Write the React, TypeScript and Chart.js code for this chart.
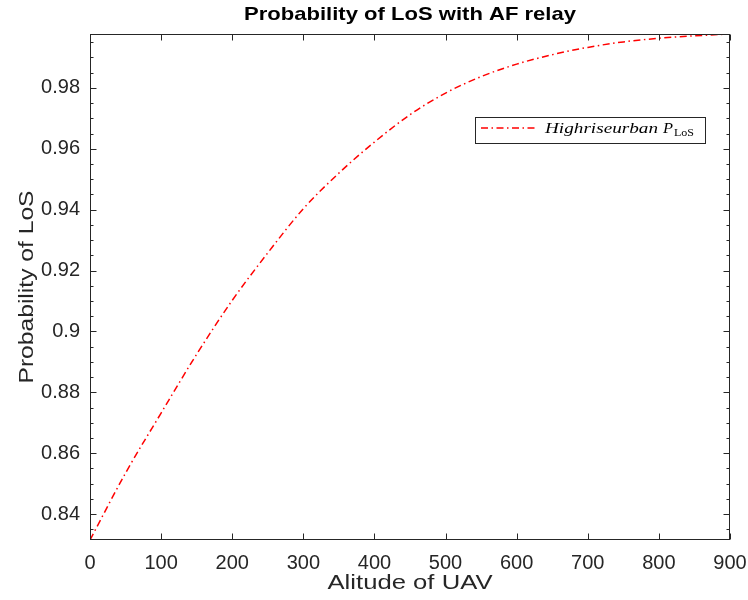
import React, { useEffect, useRef } from 'react';
import { Chart, registerables } from 'chart.js';

Chart.register(...registerables);

// ---- data ----
const altitudes = [0, 50, 100, 150, 200, 250, 300, 350, 400, 450, 500, 550, 600, 650, 700, 750, 800, 850, 900];
const pLos = [0.8315, 0.8535, 0.8732, 0.8925, 0.9102, 0.9258, 0.9403, 0.952, 0.9622, 0.9712, 0.9783, 0.9837, 0.9878, 0.9909, 0.9933, 0.9951, 0.9963, 0.9971, 0.9977];
const xTicks = [0, 100, 200, 300, 400, 500, 600, 700, 800, 900];
const yTicks = [0.84, 0.86, 0.88, 0.9, 0.92, 0.94, 0.96, 0.98];
const yMinorTicks = [0.835, 0.845, 0.85, 0.855, 0.865, 0.87, 0.875, 0.885, 0.89, 0.895, 0.905, 0.91, 0.915, 0.925, 0.93, 0.935, 0.945, 0.95, 0.955, 0.965, 0.97, 0.975, 0.985, 0.99, 0.995];
const xRange = [0, 900];
const yRange = [0.8315, 0.9977];
const titleText = 'Probability of LoS with AF relay';
const xLabel = 'Alitude of UAV';
const yLabel = 'Probability of LoS';
const legendMain = 'Highriseurban';
const legendSym = 'P';
const legendSub = 'LoS';

const AXIS_COLOR = '#262626';
const LINE_COLOR = '#ff0000';
const DASH = [7, 3.5, 1.5, 3.5];

function drawStretched(ctx: CanvasRenderingContext2D, text: string, x: number, y: number, width: number, font: string, align: 'center' | 'left') {
  ctx.save();
  ctx.font = font;
  const w = ctx.measureText(text).width;
  const sx = width / w;
  ctx.translate(x, y);
  ctx.scale(sx, 1);
  ctx.textAlign = align;
  ctx.fillText(text, 0, 0);
  ctx.restore();
}

const decorPlugin = {
  id: 'matlabDecor',
  afterDraw(chart: any) {
    const { ctx, chartArea: a, scales } = chart;
    const xs = scales.x;
    const ys = scales.y;
    const L = Math.round(a.left) + 0.5;
    const R = Math.round(a.right) - 0.5;
    const T = Math.round(a.top) + 0.5;
    const B = Math.round(a.bottom) - 0.5;
    ctx.save();
    ctx.strokeStyle = AXIS_COLOR;
    ctx.lineWidth = 1;
    ctx.setLineDash([]);
    ctx.strokeRect(L, T, R - L, B - T);
    ctx.beginPath();
    for (const v of xTicks) {
      const px = Math.round(xs.getPixelForValue(v)) + 0.5;
      ctx.moveTo(px, B); ctx.lineTo(px, B - 6);
      ctx.moveTo(px, T); ctx.lineTo(px, T + 6);
    }
    for (const v of yTicks) {
      const py = Math.round(ys.getPixelForValue(v)) + 0.5;
      ctx.moveTo(L, py); ctx.lineTo(L + 6, py);
      ctx.moveTo(R, py); ctx.lineTo(R - 6, py);
    }
    for (const v of yMinorTicks) {
      const py = Math.round(ys.getPixelForValue(v)) + 0.5;
      ctx.moveTo(L, py); ctx.lineTo(L + 3, py);
      ctx.moveTo(R, py); ctx.lineTo(R - 3, py);
    }
    ctx.stroke();

    // texts
    ctx.fillStyle = '#000000';
    ctx.textBaseline = 'alphabetic';
    const cx = (a.left + a.right) / 2;
    drawStretched(ctx, titleText, cx, 20, 332, 'bold 19px "Liberation Sans", Arial, sans-serif', 'center');
    ctx.fillStyle = AXIS_COLOR;
    drawStretched(ctx, xLabel, cx, 589, 165, '21px "Liberation Sans", Arial, sans-serif', 'center');
    ctx.save();
    ctx.translate(33, (a.top + a.bottom) / 2);
    ctx.rotate(-Math.PI / 2);
    drawStretched(ctx, yLabel, 0, 0, 193, '21px "Liberation Sans", Arial, sans-serif', 'center');
    ctx.restore();

    // legend
    ctx.fillStyle = '#ffffff';
    ctx.fillRect(475.5, 117.5, 230, 26);
    ctx.strokeStyle = AXIS_COLOR;
    ctx.lineWidth = 1;
    ctx.strokeRect(475.5, 117.5, 230, 26);
    ctx.beginPath();
    ctx.strokeStyle = LINE_COLOR;
    ctx.lineWidth = 1.5;
    ctx.setLineDash(DASH);
    ctx.moveTo(481, 128);
    ctx.lineTo(538, 128);
    ctx.stroke();
    ctx.setLineDash([]);
    ctx.fillStyle = '#000000';
    const serifIt = 'italic 15px "Liberation Serif", "Times New Roman", serif';
    drawStretched(ctx, legendMain, 545, 133, 113, serifIt, 'left');
    drawStretched(ctx, legendSym, 663, 133, 10, serifIt, 'left');
    drawStretched(ctx, legendSub, 674, 136, 20, '10px "Liberation Serif", "Times New Roman", serif', 'left');
    ctx.restore();
  },
};

export default function App() {
  const ref = useRef<HTMLCanvasElement | null>(null);
  useEffect(() => {
    document.body.style.margin = '0';
    const canvas = ref.current;
    if (!canvas) return;
    const tickFont = { family: '"Liberation Sans", Arial, sans-serif', size: 20 };
    const chart = new Chart(canvas, {
      type: 'line',
      data: {
        datasets: [
          {
            label: 'Highriseurban P_LoS',
            data: altitudes.map((x, i) => ({ x, y: pLos[i] })),
            borderColor: LINE_COLOR,
            borderWidth: 1.5,
            borderDash: DASH,
            pointRadius: 0,
            fill: false,
            cubicInterpolationMode: 'monotone',
          },
        ],
      },
      options: {
        responsive: false,
        animation: false,
        layout: { padding: { top: 34, right: 18, left: 0, bottom: 0 } },
        plugins: {
          legend: { display: false },
          title: { display: false },
          tooltip: { enabled: false },
        },
        scales: {
          x: {
            type: 'linear',
            min: xRange[0],
            max: xRange[1],
            grid: { display: false, drawTicks: false },
            border: { display: false },
            afterBuildTicks: (s: any) => { s.ticks = xTicks.map((v) => ({ value: v })); },
            afterFit: (s: any) => { s.height = 60; s.paddingLeft = 0; s.paddingRight = 0; },
            ticks: {
              autoSkip: false,
              maxRotation: 0,
              padding: 11,
              color: AXIS_COLOR,
              font: tickFont,
              callback: (v: any) => String(v),
            },
          },
          y: {
            type: 'linear',
            min: yRange[0],
            max: yRange[1],
            grid: { display: false, drawTicks: false },
            border: { display: false },
            afterBuildTicks: (s: any) => { s.ticks = yTicks.map((v) => ({ value: v })); },
            afterFit: (s: any) => { s.width = 90; s.paddingTop = 0; s.paddingBottom = 0; },
            ticks: {
              autoSkip: false,
              padding: 10,
              color: AXIS_COLOR,
              font: tickFont,
              callback: (v: any) => String(Math.round(Number(v) * 100) / 100),
            },
          },
        },
      },
      plugins: [decorPlugin],
    } as any);
    return () => chart.destroy();
  }, []);
  return <canvas ref={ref} width={748} height={600} style={{ display: 'block' }} />;
}
